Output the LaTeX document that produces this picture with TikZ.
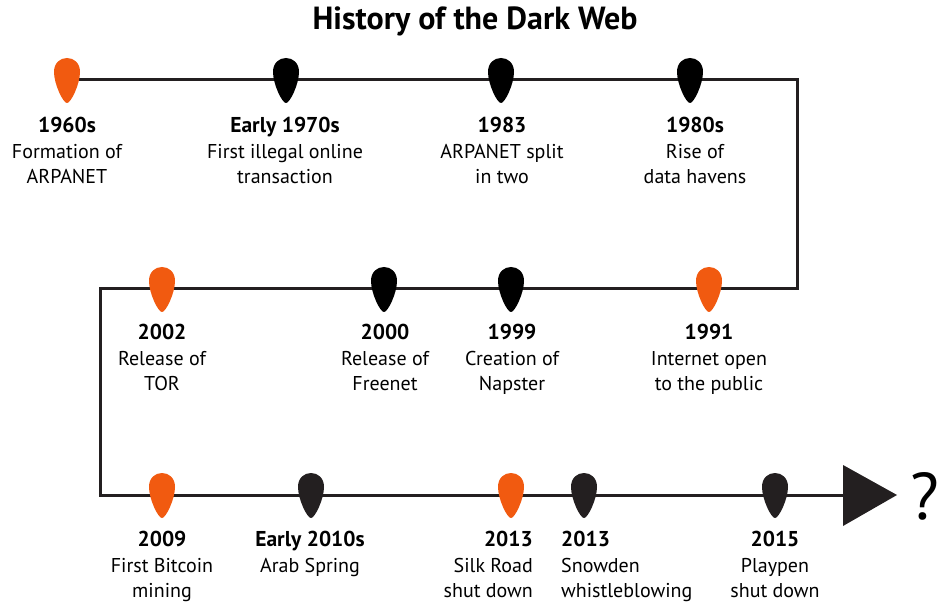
\documentclass[tikz,border=0pt]{standalone}
\usepackage{fontspec}
\setmainfont{PT Sans}
\definecolor{dwOrange}{RGB}{241,90,16}
\definecolor{dwLine}{RGB}{35,31,32}
\newcommand{\yr}[1]{{\fontsize{21.5}{25.5}\selectfont\bfseries #1}}
\tikzset{
  x=1pt, y=-1pt,
  pics/drop/.style={code={
    \fill[#1] (0,23) .. controls (-4,23) and (-13,4) .. (-13,-8)
      .. controls (-13,-17) and (-7,-22) .. (0,-22)
      .. controls (7,-22) and (13,-17) .. (13,-8)
      .. controls (13,4) and (4,23) .. (0,23) -- cycle;
  }},
  lbl/.style={anchor=north, align=center, font=\fontsize{20}{25.5}\selectfont, inner sep=0pt},
  tline/.style={draw=dwLine, line width=3pt},
}
\begin{document}
\begin{tikzpicture}
\useasboundingbox (0,0) rectangle (938,604);
\node[font=\fontsize{32}{34}\selectfont\bfseries] (title) at (475,21) {History of the Dark Web};
% path corners
\coordinate (p0) at (67,80);
\coordinate (p1) at (797,80);
\coordinate (p2) at (797,289);
\coordinate (p3) at (100,289);
\coordinate (p4) at (100,495);
\coordinate (p5) at (845,495);
\draw[tline] (p0) -- (p1) -- (p2) -- (p3) -- (p4) -- (p5);
\fill[dwLine] (843,465) -- (897,495) -- (843,526) -- cycle;
\node[font=\fontsize{66}{70}\selectfont, anchor=west, inner sep=0pt] (q) at (910,496) {?};
% markers row1
\pic at (67,80) {drop=dwOrange};
\pic at (286,80) {drop=black};
\pic at (501,80) {drop=black};
\pic at (690,80) {drop=black};
% row2
\pic at (162,289) {drop=dwOrange};
\pic at (384,289) {drop=black};
\pic at (511,289) {drop=black};
\pic at (709,289) {drop=dwOrange};
% row3
\pic at (162,495) {drop=dwOrange};
\pic at (311,495) {drop=dwLine};
\pic at (511,495) {drop=dwOrange};
\pic at (584,495) {drop=dwLine};
\pic at (775,495) {drop=dwLine};
% labels row1
\node[lbl] (l1960) at (67,117) {\yr{1960s}\\Formation of\\ARPANET};
\node[lbl] (l1970) at (285,117) {\yr{Early 1970s}\\First illegal online\\transaction};
\node[lbl] (l1983) at (502,117) {\yr{1983}\\ARPANET split\\in two};
\node[lbl] (l1980) at (695,117) {\yr{1980s}\\Rise of\\data havens};
% row2
\node[lbl] (l2002) at (162,324) {\yr{2002}\\Release of\\TOR};
\node[lbl] (l2000) at (385,324) {\yr{2000}\\Release of\\Freenet};
\node[lbl] (l1999) at (512,324) {\yr{1999}\\Creation of\\Napster};
\node[lbl] (l1991) at (709,324) {\yr{1991}\\Internet open\\to the public};
% row3
\node[lbl] (l2009) at (162,531) {\yr{2009}\\First Bitcoin\\mining};
\node[lbl] (l2010) at (310,531) {\yr{Early 2010s}\\Arab Spring};
\node[lbl, anchor=north east, align=right] (l2013a) at (533,531) {\yr{2013}\\Silk Road\\shut down};
\node[lbl, anchor=north west, align=left] (l2013b) at (561,531) {\yr{2013}\\Snowden\\whistleblowing};
\node[lbl] (l2015) at (775,531) {\yr{2015}\\Playpen\\shut down};
\end{tikzpicture}
\end{document}
